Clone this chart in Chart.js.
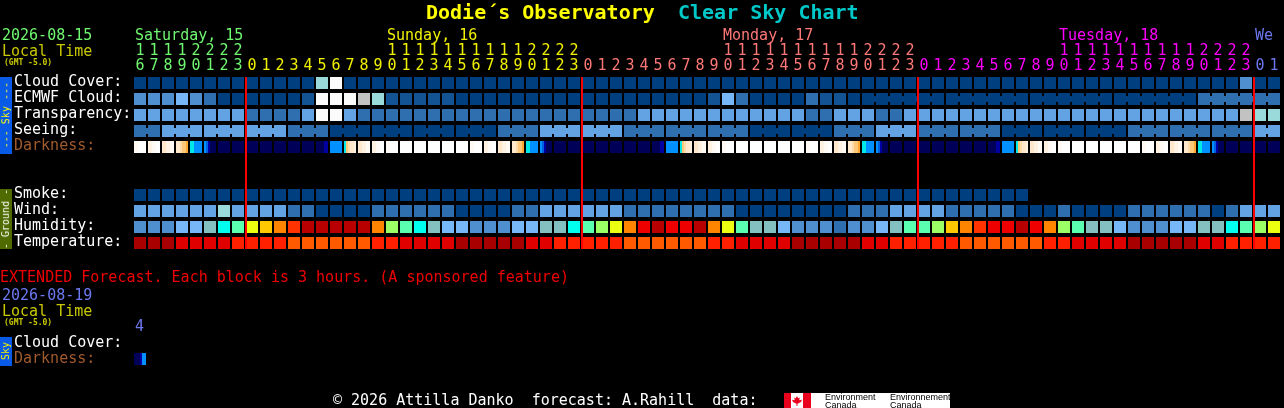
<!DOCTYPE html>
<html>
<head>
<meta charset="utf-8">
<title>Dodie's Observatory Clear Sky Chart</title>
<script src="https://cdn.jsdelivr.net/npm/chart.js@4"></script>
<style>
  html, body { margin: 0; background: #000; width: 1284px; height: 408px; overflow: hidden; }
  #wrap { position: relative; width: 1284px; height: 408px; font-family: "DejaVu Sans Mono", monospace; font-size: 15px; }
  #wrap canvas { position: absolute; left: 0; top: 0; }
  .t { position: absolute; white-space: pre; line-height: 16px; }
  .strip { position: absolute; left: 0; width: 12px; display: flex; align-items: center; justify-content: center; }
  .strip span { writing-mode: vertical-rl; transform: rotate(180deg); font-size: 10px; line-height: 12px; white-space: pre; }
  #logo { position: absolute; left: 784px; top: 393px; width: 166px; height: 15px; background: #fff; overflow: hidden; }
  #logo div { position: absolute; }
  #logo .env { font: 9px/8px "Liberation Sans", sans-serif; color: #000; white-space: pre; top: 0; }
</style>
</head>
<body>
<div id="wrap">
  <canvas id="csc" width="1284" height="408"></canvas>

  <div class="t" style="left:426px;top:0;font-size:20px;line-height:24px;font-weight:bold;color:#ffff00">Dodie´s Observatory</div>
  <div class="t" style="left:678px;top:0;font-size:20px;line-height:24px;font-weight:bold;color:#00c8c8">Clear Sky Chart</div>

  <div class="t" style="left:2px;top:27px;color:#70f870">2026-08-15</div>
  <div class="t" style="left:2px;top:43px;color:#c8c800">Local Time</div>
  <div class="t" style="left:4px;top:55px;font-size:8px;font-weight:bold;color:#c8c800">(GMT -5.0)</div>

  <div class="t" style="left:135px;top:27px;color:#70f870">Saturday, 15</div>
  <div class="t" style="left:387px;top:27px;color:#f0f000">Sunday, 16</div>
  <div class="t" style="left:723px;top:27px;color:#ff7878">Monday, 17</div>
  <div class="t" style="left:1059px;top:27px;color:#ff00ff">Tuesday, 18</div>
  <div class="t" style="left:1255px;top:27px;color:#6c78f0">We</div>

  <div class="strip" style="top:77px;height:77px;background:#0a5ae8;color:#f0f000"><span>--- Sky ---</span></div>
  <div class="strip" style="top:189px;height:60px;background:#4f6b00;color:#fff"><span>- Ground -</span></div>

  <div class="t" style="left:0;top:269px;color:#f00000">EXTENDED Forecast. Each block is 3 hours. (A sponsored feature)</div>
  <div class="t" style="left:2px;top:287px;color:#6c78f0">2026-08-19</div>
  <div class="t" style="left:2px;top:303px;color:#c8c800">Local Time</div>
  <div class="t" style="left:4px;top:315px;font-size:8px;font-weight:bold;color:#c8c800">(GMT -5.0)</div>
  <div class="t" style="left:135px;top:318px;color:#6c78f0">4</div>
  <div class="strip" style="top:337px;height:29px;background:#0a5ae8;color:#f0f000"><span>Sky</span></div>

  <div class="t" style="left:333px;top:392px;color:#fff">© 2026 Attilla Danko  forecast: A.Rahill  data:</div>
  <div id="logo">
    <div style="left:0;top:0;width:7px;height:15px;background:#e8001c"></div>
    <div style="left:19px;top:0;width:8px;height:15px;background:#e8001c"></div>
    <div style="left:8px;top:3px;width:10px;height:10px;background:#e8001c;clip-path:polygon(50% 0,62% 22%,78% 16%,72% 42%,100% 38%,90% 60%,55% 78%,55% 100%,45% 100%,45% 78%,10% 60%,0 38%,28% 42%,22% 16%,38% 22%)"></div>
    <div class="env" style="left:41px">Environment
Canada</div>
    <div class="env" style="left:106px">Environnement
Canada</div>
  </div>
</div>

<script>
// hours along the top, one per column
const hours = [
  16, 17, 18, 19, 20, 21, 22, 23,
  0, 1, 2, 3, 4, 5, 6, 7, 8, 9, 10, 11, 12, 13, 14, 15, 16, 17, 18, 19, 20, 21, 22, 23,
  0, 1, 2, 3, 4, 5, 6, 7, 8, 9, 10, 11, 12, 13, 14, 15, 16, 17, 18, 19, 20, 21, 22, 23,
  0, 1, 2, 3, 4, 5, 6, 7, 8, 9, 10, 11, 12, 13, 14, 15, 16, 17, 18, 19, 20, 21, 22, 23,
  0, 1
];
const dayEnds = [8, 32, 56, 80, 82];
const dayColors = ['#70f870', '#f0f000', '#ff7878', '#ff00ff', '#6c78f0'];

// red lines at each midnight, on the column axis
const midnights = [7.571, 31.571, 55.571, 79.571];

const rowNames = ['Cloud Cover:', 'ECMWF Cloud:', 'Transparency:', 'Seeing:', 'Darkness:',
  'Smoke:', 'Wind:', 'Humidity:', 'Temperature:', 'Cloud Cover:', 'Darkness:'];
const rowTicks = [0, 1, 2, 3, 4, 7, 8, 9, 10, 16.3125, 17.3125];
const rowNameColors = ['#fff', '#fff', '#fff', '#fff', '#a05a2c', '#fff', '#fff', '#fff', '#fff', '#fff', '#a05a2c'];

// levels, index into the palettes below
const cloudCover = [
  0, 0, 0, 0, 0, 0, 0, 0, 0, 0, 0, 0, 0, 6, 10, 0, 0, 0, 0, 0, 0, 0, 0, 0, 0, 0, 0, 0, 0, 0, 0, 0,
  0, 0, 0, 0, 0, 0, 0, 0, 0, 0, 0, 0, 0, 0, 0, 0, 0, 0, 0, 0, 0, 0, 0, 0,
  0, 0, 0, 0, 0, 0, 0, 0, 0, 0, 0, 0, 0, 0, 0, 0, 0, 0, 0, 0, 0, 0, 0, 3, 0, 0
];
const ecmwfCloud = [
  3, 3, 3, 5, 3, 2, 0, 0, 0, 0, 0, 0, 1, 10, 10, 10, 8, 6, 1, 1, 1, 1, 1, 0, 0, 0, 0, 0, 0, 0, 0, 0,
  0, 0, 0, 0, 0, 0, 0, 0, 0, 1, 5, 2, 0, 0, 0, 0, 2, 1, 1, 0, 0, 0, 0, 0,
  0, 0, 0, 0, 0, 0, 0, 0, 0, 0, 0, 0, 0, 0, 0, 0, 0, 0, 0, 0, 2, 2, 2, 2, 2, 2
];
const transparency = [
  4, 4, 4, 4, 4, 4, 4, 4, 2, 2, 2, 2, 4, 10, 10, 4, 2, 2, 2, 2, 2, 2, 2, 2, 2, 2, 2, 2, 2, 2, 2, 2,
  2, 2, 2, 2, 4, 4, 4, 4, 4, 4, 4, 4, 4, 4, 4, 4, 2, 2, 4, 4, 4, 2, 2, 4,
  4, 4, 4, 4, 4, 4, 4, 4, 4, 4, 4, 4, 4, 4, 4, 4, 4, 4, 4, 4, 4, 4, 4, 8, 6, 6
];
const seeing = [
  2, 2, 4, 4, 4, 4, 4, 4, 4, 4, 4, 2, 2, 2, 0, 0, 0, 0, 0, 0, 0, 0, 0, 0, 0, 0, 2, 2, 2, 4, 4, 4,
  4, 4, 4, 2, 2, 2, 2, 2, 2, 2, 2, 2, 0, 0, 0, 0, 0, 0, 2, 2, 2, 4, 4, 4,
  2, 2, 2, 2, 2, 2, 0, 0, 0, 0, 0, 0, 0, 0, 0, 2, 2, 2, 2, 2, 2, 2, 2, 2, 4, 4
];
// stops short of the right edge, as the forecast does
const smoke = [
  0, 0, 0, 0, 0, 0, 0, 0, 0, 0, 0, 0, 0, 0, 0, 0, 0, 0, 0, 0, 0, 0, 0, 0, 0, 0, 0, 0, 0, 0, 0, 0,
  0, 0, 0, 0, 0, 0, 0, 0, 0, 0, 0, 0, 0, 0, 0, 0, 0, 0, 0, 0, 0, 0, 0, 0, 0, 0, 0, 0, 0, 0, 0, 0
];
const wind = [
  4, 4, 4, 4, 4, 4, 6, 4, 4, 4, 4, 2, 2, 0, 0, 0, 0, 2, 2, 2, 2, 2, 2, 0, 0, 0, 0, 2, 2, 4, 4, 4,
  4, 4, 4, 2, 2, 2, 2, 2, 2, 2, 2, 0, 0, 0, 0, 0, 0, 0, 0, 2, 2, 2, 4, 4,
  4, 4, 2, 2, 2, 2, 2, 0, 0, 0, 2, 0, 0, 0, 0, 2, 2, 2, 2, 2, 2, 0, 2, 4, 4, 4
];
const humidity = [
  1, 1, 1, 2, 2, 3, 4, 5, 7, 8, 9, 10, 12, 12, 12, 12, 12, 9, 6, 5, 4,
  3, 2, 2, 1, 1, 1, 2, 2, 3, 3, 4, 5, 6, 7, 9, 11, 12, 11, 11, 12, 9, 7, 5, 3, 3, 2, 1, 1, 1, 0, 1,
  1, 2, 3, 5, 5, 6, 8, 9, 10, 11, 11, 12, 11, 9, 6, 5, 3, 3, 2, 1, 1, 1, 2, 2, 3, 3, 4, 5, 6, 7
];
const temperature = [
  0, 0, 0, 1, 1, 1, 1, 2, 2, 2, 2, 3, 3, 3, 3, 3, 3, 2, 2, 1, 1, 1, 1, 0, 0, 0, 0, 0, 1, 1, 2, 2,
  2, 2, 2, 3, 3, 3, 3, 3, 3, 2, 2, 1, 1, 1, 1, 0, 0, 0, 0, 0, 1, 1, 2, 2,
  2, 2, 2, 3, 3, 3, 3, 3, 3, 2, 2, 1, 1, 1, 1, 0, 0, 0, 0, 0, 1, 1, 2, 2, 2, 2
];
// six samples per hour block, left to right
const darkness = [
  'vvwwww', 'uuvvww', 'ttuuvv', 'ttsrrq', 'ccbbbb', 'banmmm', 'mmmmmm', 'mmmmmm',
  'mmmmmm', 'mmmmmm', 'mmmmmm', 'mmmmmm', 'mmmmmm', 'mmmmnn', 'bbbbbb', 'crsttu',
  'ttuuvv', 'uuvvww', 'vvwwww', 'wwwwww', 'wwwwww', 'wwwwww', 'wwwwww', 'wwwwww',
  'vvwwww', 'uuvvww', 'ttuuvv', 'ttsrrq', 'ccbbbb', 'banmmm', 'mmmmmm', 'mmmmmm',
  'mmmmmm', 'mmmmmm', 'mmmmmm', 'mmmmmm', 'mmmmmm', 'mmmmnn', 'bbbbbb', 'crsttu',
  'ttuuvv', 'uuvvww', 'vvwwww', 'wwwwww', 'wwwwww', 'wwwwww', 'wwwwww', 'wwwwww',
  'vvwwww', 'uuvvww', 'ttuuvv', 'ttsrrq', 'ccbbbb', 'banmmm', 'mmmmmm', 'mmmmmm',
  'mmmmmm', 'mmmmmm', 'mmmmmm', 'mmmmmm', 'mmmmmm', 'mmmmnn', 'bbbbbb', 'crsttu',
  'ttuuvv', 'uuvvww', 'vvwwww', 'wwwwww', 'wwwwww', 'wwwwww', 'wwwwww', 'wwwwww',
  'vvwwww', 'uuvvww', 'ttuuvv', 'ttsrrq', 'ccbbbb', 'banmmm', 'mmmmmm', 'mmmmmm',
  'mmmmmm', 'mmmmmm'
];
const extendedDarkness = ['mmmnbb'];

// columns joined to the next one, these come in coarser time blocks
const seeingLinks = [0, 2, 3, 5, 6, 8, 9, 11, 12, 14, 15, 17, 18, 20, 21, 23, 24, 26, 27, 29, 30, 32, 33,
  35, 36, 38, 39, 41, 42, 44, 45, 47, 48, 50, 51, 53, 54, 56, 57, 59, 60, 62, 63, 65, 66, 68, 69,
  71, 72, 74, 75, 77, 78, 80];
const ecmwfLinks = [52, 53, 54, 55, 56, 58, 59, 60, 61, 62, 64, 65, 66, 67, 68, 70, 71, 72, 73, 74, 76, 77, 78, 79, 80];

const skyColors = ['#003f7f', '#135393', '#2f6faf', '#4f8fcf', '#63a3e3', '#77b7f7', '#9adada', '#aeeeee', '#c2c2c2', '#eaeaea', '#fbfbfb'];
const humidityColors = ['#2f6faf', '#4f8fcf', '#77b7f7', '#85c0c0', '#00ffee', '#5affb0', '#9bff65', '#edff10', '#ffc800', '#ff8500', '#ff3300', '#ee0000', '#b80000'];
const temperatureColors = ['#a80000', '#e00000', '#ff2000', '#ff5a00'];
const darkColors = {
  w: '#ffffff', v: '#fffaf4', u: '#fff2e2', t: '#ffe8cc', s: '#ffdca8', r: '#ffc878', q: '#ffa830',
  c: '#00e8e8', b: '#0090ff', a: '#0060e0', n: '#0000a0', m: '#000058'
};

const halfCell = 0.375;   // 12px cell on a 16px row
const halfLink = 0.1875;

function rowData(values, row) {
  return values.map(() => [row - halfCell, row + halfCell]);
}

function levelRow(values, row, palette) {
  return {
    data: rowData(values, row),
    backgroundColor: values.map((v) => palette[v])
  };
}

function linkRow(links, values, row) {
  return {
    xAxisID: 'cols',
    barThickness: 2,
    data: links.map((c) => ({ x: c + 0.5, y: [row - halfLink, row + halfLink] })),
    backgroundColor: links.map((c) => skyColors[values[c]])
  };
}

// darkness blocks change colour inside the cell, so each gets a gradient
function darkFill(samples) {
  return (ctx) => {
    const x = ctx.chart.scales.x;
    const s = samples[ctx.dataIndex];
    if (!x || !s) return '#000';
    const mid = x.getPixelForValue(ctx.dataIndex);
    if (!Number.isFinite(mid)) return '#000';
    const g = ctx.chart.ctx.createLinearGradient(mid - 6, 0, mid + 6, 0);
    for (let i = 0; i < s.length; i++) {
      g.addColorStop(i / s.length, darkColors[s[i]]);
      g.addColorStop((i + 1) / s.length, darkColors[s[i]]);
    }
    return g;
  };
}

const hourColor = (i) => dayColors[dayEnds.findIndex((end) => i < end)];

new Chart(document.getElementById('csc'), {
  type: 'bar',
  data: {
    labels: hours,
    datasets: [
      // first dataset is painted last, so the red lines go here
      {
        xAxisID: 'cols',
        barThickness: 2,
        data: midnights.map((x) => ({ x: x, y: [-halfCell, 10 + halfCell] })),
        backgroundColor: '#ff0000'
      },
      levelRow(cloudCover, 0, skyColors),
      levelRow(ecmwfCloud, 1, skyColors),
      linkRow(ecmwfLinks, ecmwfCloud, 1),
      levelRow(transparency, 2, skyColors),
      levelRow(seeing, 3, skyColors),
      linkRow(seeingLinks, seeing, 3),
      { data: rowData(darkness, 4), backgroundColor: darkFill(darkness) },
      levelRow(smoke, 7, skyColors),
      levelRow(wind, 8, skyColors),
      levelRow(humidity, 9, humidityColors),
      levelRow(temperature, 10, temperatureColors),
      { data: rowData(extendedDarkness, 17.25), backgroundColor: darkFill(extendedDarkness) }
    ]
  },
  options: {
    responsive: false,
    animation: false,
    devicePixelRatio: 1,
    layout: { padding: { left: 14, right: 3, top: 0, bottom: 29 } },
    datasets: {
      bar: {
        grouped: false,
        barPercentage: 12 / 14,
        categoryPercentage: 1,
        borderWidth: 0,
        inflateAmount: 0
      }
    },
    plugins: {
      legend: { display: false },
      tooltip: { enabled: false }
    },
    scales: {
      x: {
        position: 'top',
        grid: { display: false },
        border: { display: false },
        afterFit: (s) => { s.height = 75; },
        ticks: {
          autoSkip: false,
          maxRotation: 0,
          padding: -7,
          font: { family: '"DejaVu Sans Mono", monospace', size: 15, lineHeight: 1 },
          color: (c) => hourColor(c.index),
          callback: (v, i) => {
            const h = hours[i];
            return h >= 10 ? [String(h)[0], String(h)[1]] : [' ', String(h)];
          }
        }
      },
      cols: {
        type: 'linear',
        display: false,
        position: 'top',
        offset: false,
        min: -0.5,
        max: 81.5
      },
      y: {
        reverse: true,
        min: -0.5,
        max: 18.5,
        grid: { display: false },
        border: { display: false },
        afterFit: (s) => { s.width = 119; },
        afterBuildTicks: (s) => { s.ticks = rowTicks.map((v) => ({ value: v - 0.0625 })); },
        ticks: {
          autoSkip: false,
          crossAlign: 'far',
          padding: 0,
          font: { family: '"DejaVu Sans Mono", monospace', size: 15, lineHeight: 1 },
          color: (c) => rowNameColors[c.index],
          callback: (v, i) => rowNames[i]
        }
      }
    }
  }
});
</script>
</body>
</html>
